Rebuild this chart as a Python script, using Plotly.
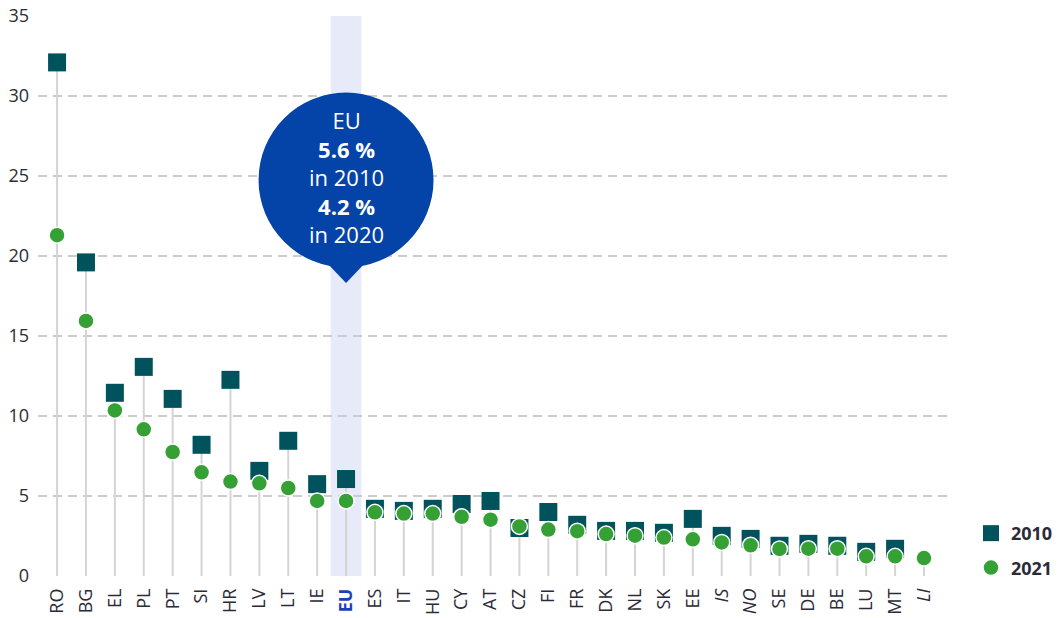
import plotly.graph_objects as go

countries = ["RO", "BG", "EL", "PL", "PT", "SI", "HR", "LV", "LT", "IE", "EU",
             "ES", "IT", "HU", "CY", "AT", "CZ", "FI", "FR", "DK", "NL", "SK",
             "EE", "IS", "NO", "SE", "DE", "BE", "LU", "MT", "LI"]
values_2010 = [32.1, 19.6, 11.45, 13.07, 11.07, 8.2, 12.26, 6.57, 8.45, 5.74, 6.06,
               4.2, 4.07, 4.2, 4.5, 4.69, 3.0, 4.0, 3.2, 2.82, 2.82, 2.7,
               3.57, 2.51, 2.32, 1.89, 2.01, 1.89, 1.51, 1.7, None]
values_2021 = [21.3, 15.94, 10.35, 9.17, 7.75, 6.48, 5.9, 5.79, 5.5, 4.69, 4.69,
               3.98, 3.9, 3.9, 3.7, 3.52, 3.1, 2.9, 2.8, 2.62, 2.52, 2.4,
               2.29, 2.1, 1.92, 1.69, 1.71, 1.71, 1.23, 1.23, 1.12]
non_eu = ["IS", "NO", "LI"]
eu_label = "EU"
bubble_text = "EU<br><b>5.6 %</b><br>in 2010<br><b>4.2 %</b><br>in 2020"

TEXT = "#2b2b38"
SQUARE = "#00535d"
GREEN = "#35a135"
BLUE = "#0443a8"
FONT = "Open Sans"

# pixel helpers for the annotation bubble (plot: y 0 at 576px, 16 px per unit)
PX_PER_Y = 16.0
PX_PER_X = 28.9

xs = list(range(len(countries)))
ticktext = []
for c in countries:
    if c == eu_label:
        ticktext.append(f"<b><span style='color:#1c3fb5'>{c}</span></b>")
    elif c in non_eu:
        ticktext.append(f"<i>{c}</i>")
    else:
        ticktext.append(c)

# stems
stem_x, stem_y = [], []
for i, (a, b) in enumerate(zip(values_2010, values_2021)):
    top = max(v for v in (a, b) if v is not None)
    stem_x += [i, i, None]
    stem_y += [0, top, None]

fig = go.Figure()
fig.add_trace(go.Scatter(x=stem_x, y=stem_y, mode="lines",
                         line=dict(color="#d4d4d4", width=2),
                         showlegend=False, hoverinfo="skip", cliponaxis=False))
fig.add_trace(go.Scatter(x=xs, y=values_2010, mode="markers", name="2010",
                         legendgroup="a",
                         marker=dict(symbol="square", size=18, color=SQUARE),
                         cliponaxis=False))
fig.add_trace(go.Scatter(x=xs, y=values_2021, mode="markers", name="2021",
                         legendgroup="b",
                         marker=dict(symbol="circle", size=16, color=GREEN,
                                     line=dict(color="white", width=1.5)),
                         cliponaxis=False))

eu_i = countries.index(eu_label)
# highlight band
fig.add_shape(type="rect", xref="x", yref="paper", x0=eu_i - 0.53, x1=eu_i + 0.53,
              y0=0, y1=1, fillcolor="#e7eaf8", line=dict(width=0), layer="below")
# bubble
cy = (576 - 180) / PX_PER_Y
ry = 87.5 / PX_PER_Y
rx = 87.5 / PX_PER_X
fig.add_shape(type="circle", xref="x", yref="y", x0=eu_i - rx, x1=eu_i + rx,
              y0=cy - ry, y1=cy + ry, fillcolor=BLUE, line=dict(width=0), layer="above")
base_y = (576 - 262) / PX_PER_Y
tip_y = (576 - 283) / PX_PER_Y
hw = 20 / PX_PER_X
fig.add_shape(type="path", xref="x", yref="y",
              path=f"M {eu_i-hw} {base_y} L {eu_i+hw} {base_y} L {eu_i} {tip_y} Z",
              fillcolor=BLUE, line=dict(width=0), layer="above")
fig.add_annotation(x=eu_i, y=(576 - 177) / PX_PER_Y, xref="x", yref="y", text=bubble_text,
                   showarrow=False, font=dict(family=FONT, size=22, color="white"),
                   align="center", yanchor="middle")

# figure is slightly wider than the window so the outside legend does not
# push the plot margin; the extra strip is simply outside the viewport
fig.update_layout(
    width=1080, height=618,
    margin=dict(l=38, r=130, t=16, b=42),
    paper_bgcolor="white", plot_bgcolor="white",
    font=dict(family=FONT, color=TEXT, size=18),
    showlegend=True,
    legend=dict(x=1.023, y=0.109, xanchor="left", yanchor="top",
                font=dict(family=FONT, size=18, color=TEXT, weight="bold"),
                itemwidth=30, tracegroupgap=8, bgcolor="rgba(0,0,0,0)"),
    xaxis=dict(range=[-0.66, 30.9], tickmode="array", tickvals=xs, ticktext=ticktext,
               tickangle=-90, showgrid=False, zeroline=False, showline=False,
               ticks="", tickfont=dict(size=18, color=TEXT), ticklabelstandoff=8,
               automargin=False),
    yaxis=dict(range=[0, 35], dtick=5, showgrid=True, gridcolor="#cccccc",
               gridwidth=1.5, griddash="9px,6px", zeroline=False, showline=False,
               ticks="", tickfont=dict(size=18, color=TEXT), ticklabelstandoff=8,
               automargin=False),
)

fig.write_html("out.html", config={"displayModeBar": False},
               post_script="document.body.style.margin='0';document.body.style.overflow='hidden';")
